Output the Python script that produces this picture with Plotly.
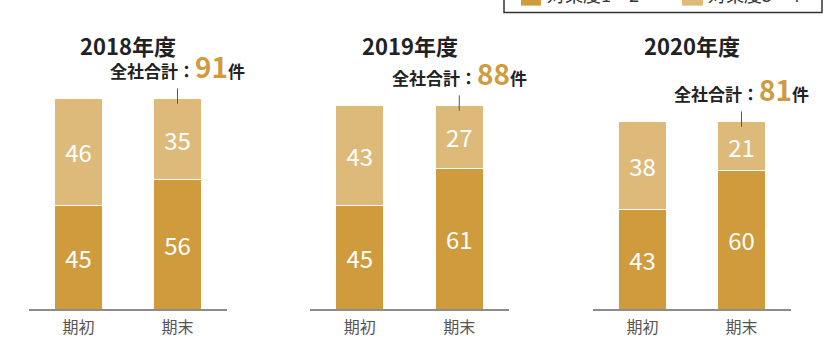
import plotly.graph_objects as go

years = ["2018年度", "2019年度", "2020年度"]
periods = ["期初", "期末"]
series_names = ["対策度1・2", "対策度3・4"]
lower_vals = [[45, 56], [45, 61], [43, 60]]
upper_vals = [[46, 35], [43, 27], [38, 21]]
totals = [91, 88, 81]

DARK = "#CF9B3D"
LIGHT = "#DEBA7A"
FONT = "Noto Sans CJK JP"

W, H = 830, 338
PLOT_TOP, PLOT_BOT = 78, 311
domains_px = [(29, 227), (310, 509), (593, 791)]

def py(p):  # pixel y -> paper y
    return (PLOT_BOT - p) / (PLOT_BOT - PLOT_TOP)

def px(p):
    return p / W

fig = go.Figure()
annotations = []
shapes = []
for i in range(3):
    xa = "x" if i == 0 else f"x{i+1}"
    ya = "y" if i == 0 else f"y{i+1}"
    fig.add_trace(go.Bar(
        x=periods, y=lower_vals[i], xaxis=xa, yaxis=ya, name=series_names[0],
        marker=dict(color=DARK, line=dict(color="white", width=1)),
        width=0.48, text=lower_vals[i], textposition="inside",
        insidetextanchor="middle", textangle=0,
        insidetextfont=dict(color="white", size=24, family=FONT),
        showlegend=False))
    fig.add_trace(go.Bar(
        x=periods, y=upper_vals[i], xaxis=xa, yaxis=ya, name=series_names[1],
        marker=dict(color=LIGHT, line=dict(color="white", width=1)),
        width=0.48, text=upper_vals[i], textposition="inside",
        insidetextanchor="middle", textangle=0,
        insidetextfont=dict(color="white", size=24, family=FONT),
        showlegend=False))
    d0, d1 = domains_px[i]
    xk = "xaxis" if i == 0 else f"xaxis{i+1}"
    yk = "yaxis" if i == 0 else f"yaxis{i+1}"
    fig.update_layout(**{
        xk: dict(domain=[px(d0), px(d1)], anchor=ya, range=[-0.5, 1.5],
                 showline=True, linecolor="#8c8c8c", linewidth=2,
                 ticks="", showgrid=False, zeroline=False,
                 ticklabelstandoff=3,
                 tickfont=dict(size=16, color="#555555", family=FONT),
                 fixedrange=True),
        yk: dict(domain=[0, 1], anchor=xa, range=[0, 100], visible=False,
                 showgrid=False, zeroline=False, fixedrange=True),
    })
    # year title
    annotations.append(dict(
        xref=xa, yref="paper",
        x=0.5, y=py(45), text=f"<b>{years[i]}</b>", showarrow=False,
        xanchor="center", yanchor="middle",
        font=dict(size=22, color="#222222", family=FONT)))
    # total label
    annotations.append(dict(
        xref=xa, yref=ya, x=1, y=totals[i],
        text=("<b>全社合計：</b><span style='font-size:28px;color:%s'><b>%d</b></span><b>件</b>"
              % (DARK, totals[i])),
        showarrow=False, xanchor="center", yanchor="bottom", yshift=11,
        font=dict(size=17, color="#222222", family=FONT)))
    shapes.append(dict(
        type="line", xref=xa, yref=ya, x0=1, x1=1,
        y0=totals[i] - 2.1, y1=totals[i] + 4.5,
        line=dict(color="#555555", width=1)))

# partially visible legend box at top-right
shapes.append(dict(type="rect", xref="paper", yref="paper",
                   x0=px(504), x1=px(822), y0=py(12), y1=py(-30),
                   line=dict(color="#333333", width=1.5), fillcolor="white",
                   layer="below"))
shapes.append(dict(type="rect", xref="paper", yref="paper",
                   x0=px(521), x1=px(541), y0=py(5), y1=py(-20),
                   line=dict(width=0), fillcolor=DARK, layer="above"))
shapes.append(dict(type="rect", xref="paper", yref="paper",
                   x0=px(682), x1=px(703), y0=py(5), y1=py(-20),
                   line=dict(width=0), fillcolor=LIGHT, layer="above"))
annotations.append(dict(xref="paper", yref="paper", x=px(545), y=py(8),
                        text=series_names[0], showarrow=False,
                        xanchor="left", yanchor="bottom",
                        font=dict(size=18, color="#333333", family=FONT)))
annotations.append(dict(xref="paper", yref="paper", x=px(706), y=py(8),
                        text=series_names[1], showarrow=False,
                        xanchor="left", yanchor="bottom",
                        font=dict(size=18, color="#333333", family=FONT)))

fig.update_layout(
    width=W, height=H, barmode="stack",
    margin=dict(l=0, r=0, t=PLOT_TOP, b=H - PLOT_BOT, pad=0),
    paper_bgcolor="white", plot_bgcolor="white",
    showlegend=False, annotations=annotations, shapes=shapes,
    font=dict(family=FONT),
)
fig.write_html("out.html", config={"displayModeBar": False})
